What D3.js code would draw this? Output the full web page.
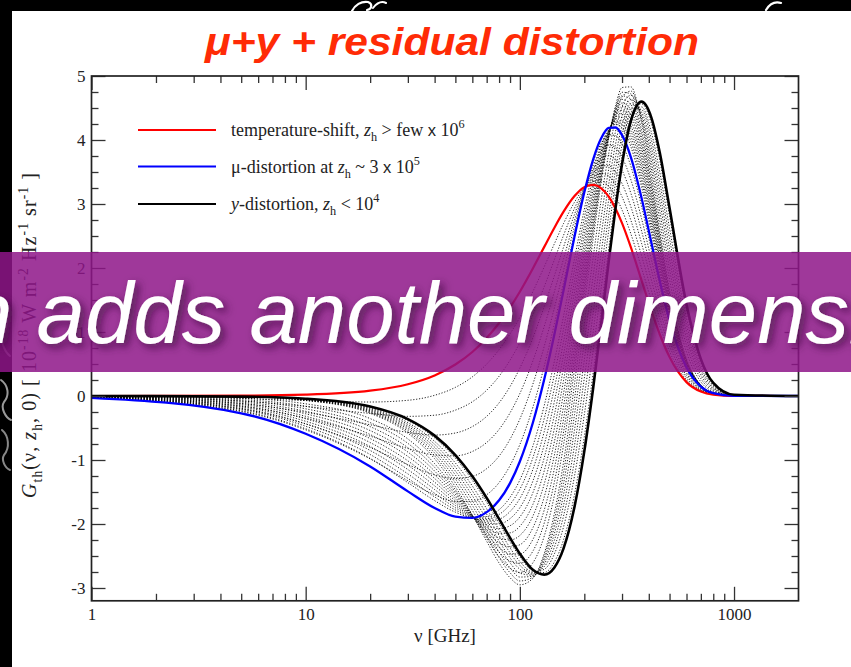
<!DOCTYPE html>
<html><head><meta charset="utf-8">
<script src="https://cdn.jsdelivr.net/npm/d3@7"></script>
<style>
html,body{margin:0;padding:0;background:#000;}
svg{display:block;}
</style></head><body>
<svg id="chart" width="851" height="667"></svg>
<script>
// ---------------- data ----------------
const titleText = "μ+y + residual distortion";
const bannerText = "n adds another dimensi";
const xAxisTitle = "ν [GHz]";
const freqGHz = [1, 5, 10, 20, 30, 40, 50, 60, 70, 80, 90, 100, 115, 130, 145, 160, 180, 200, 220, 240, 260, 280, 300, 330, 370, 410, 450, 500, 600, 700, 800, 1000, 2000];
const tempShift = [0.0002, 0.005, 0.021, 0.083, 0.184, 0.322, 0.492, 0.688, 0.907, 1.140, 1.383, 1.629, 1.992, 2.330, 2.630, 2.880, 3.124, 3.263, 3.299, 3.244, 3.115, 2.927, 2.701, 2.321, 1.808, 1.346, 0.965, 0.609, 0.217, 0.069, 0.020, 0.0015, 0];
const muDistortion = [-0.03, -0.27, -0.59, -1.10, -1.49, -1.750, -1.885, -1.904, -1.815, -1.630, -1.361, -1.023, -0.418, 0.261, 0.965, 1.654, 2.490, 3.182, 3.698, 4.030, 4.189, 4.195, 4.076, 3.730, 3.095, 2.417, 1.800, 1.180, 0.444, 0.147, 0.044, 0.003, 0];
const yDistortion = [0, -0.010, -0.042, -0.165, -0.361, -0.619, -0.923, -1.255, -1.594, -1.921, -2.217, -2.464, -2.715, -2.791, -2.678, -2.380, -1.729, -0.862, 0.129, 1.146, 2.106, 2.945, 3.623, 4.300, 4.599, 4.362, 3.804, 2.938, 1.430, 0.577, 0.205, 0.020, 0];
// dotted residual-era curves (intermediate heating redshifts)
const residualCurves = [
  [-0.0045, -0.036, -0.071, -0.094, -0.067, 0.011, 0.135, 0.299, 0.499, 0.725, 0.971, 1.231, 1.631, 2.020, 2.380, 2.696, 3.029, 3.251, 3.359, 3.362, 3.276, 3.117, 2.907, 2.532, 2.001, 1.507, 1.090, 0.695, 0.251, 0.081, 0.024, 0.0015, 0],
  [-0.009, -0.078, -0.162, -0.272, -0.318, -0.300, -0.221, -0.090, 0.090, 0.309, 0.560, 0.833, 1.269, 1.709, 2.131, 2.512, 2.934, 3.239, 3.419, 3.480, 3.437, 3.307, 3.113, 2.744, 2.194, 1.667, 1.216, 0.780, 0.285, 0.092, 0.027, 0.002, 0],
  [-0.0135, -0.119, -0.254, -0.449, -0.569, -0.610, -0.578, -0.478, -0.318, -0.107, 0.148, 0.436, 0.908, 1.399, 1.881, 2.328, 2.839, 3.227, 3.479, 3.598, 3.598, 3.498, 3.320, 2.955, 2.387, 1.828, 1.341, 0.866, 0.319, 0.104, 0.031, 0.002, 0],
  [-0.018, -0.160, -0.346, -0.627, -0.820, -0.921, -0.934, -0.867, -0.726, -0.522, -0.263, 0.038, 0.546, 1.089, 1.631, 2.144, 2.744, 3.214, 3.538, 3.716, 3.759, 3.688, 3.526, 3.166, 2.580, 1.989, 1.466, 0.952, 0.353, 0.116, 0.034, 0.002, 0],
  [-0.023, -0.201, -0.437, -0.804, -1.072, -1.232, -1.291, -1.256, -1.135, -0.938, -0.675, -0.360, 0.185, 0.778, 1.381, 1.961, 2.649, 3.202, 3.598, 3.834, 3.921, 3.878, 3.732, 3.378, 2.773, 2.149, 1.591, 1.037, 0.387, 0.128, 0.038, 0.003, 0],
  [-0.027, -0.243, -0.529, -0.982, -1.323, -1.543, -1.647, -1.645, -1.543, -1.353, -1.087, -0.758, -0.177, 0.468, 1.132, 1.777, 2.553, 3.190, 3.658, 3.951, 4.082, 4.068, 3.939, 3.589, 2.966, 2.310, 1.717, 1.123, 0.421, 0.139, 0.042, 0.003, 0],
  [-0.0255, -0.231, -0.512, -0.976, -1.354, -1.635, -1.815, -1.897, -1.883, -1.777, -1.583, -1.312, -0.783, -0.147, 0.546, 1.251, 2.145, 2.918, 3.512, 3.928, 4.165, 4.247, 4.188, 3.895, 3.271, 2.573, 1.919, 1.252, 0.464, 0.150, 0.045, 0.003, 0],
  [-0.023, -0.212, -0.473, -0.914, -1.286, -1.577, -1.781, -1.894, -1.918, -1.851, -1.694, -1.457, -0.966, -0.351, 0.337, 1.050, 1.973, 2.786, 3.420, 3.877, 4.153, 4.273, 4.244, 3.978, 3.360, 2.652, 1.978, 1.288, 0.475, 0.152, 0.046, 0.0035, 0],
  [-0.021, -0.193, -0.434, -0.851, -1.217, -1.519, -1.746, -1.891, -1.952, -1.924, -1.805, -1.601, -1.148, -0.555, 0.127, 0.849, 1.800, 2.653, 3.327, 3.826, 4.141, 4.299, 4.299, 4.060, 3.448, 2.730, 2.037, 1.324, 0.485, 0.154, 0.046, 0.004, 0],
  [-0.019, -0.174, -0.395, -0.789, -1.149, -1.462, -1.711, -1.888, -1.986, -1.998, -1.916, -1.746, -1.330, -0.759, -0.083, 0.648, 1.628, 2.521, 3.234, 3.775, 4.129, 4.325, 4.355, 4.143, 3.536, 2.808, 2.097, 1.360, 0.495, 0.156, 0.047, 0.004, 0],
  [-0.0165, -0.154, -0.356, -0.727, -1.081, -1.404, -1.676, -1.884, -2.020, -2.071, -2.027, -1.890, -1.512, -0.963, -0.293, 0.446, 1.455, 2.389, 3.141, 3.724, 4.117, 4.350, 4.411, 4.225, 3.624, 2.886, 2.156, 1.396, 0.505, 0.157, 0.047, 0.004, 0],
  [-0.014, -0.135, -0.317, -0.665, -1.013, -1.346, -1.641, -1.881, -2.054, -2.145, -2.138, -2.035, -1.695, -1.168, -0.503, 0.245, 1.283, 2.257, 3.048, 3.673, 4.106, 4.376, 4.467, 4.308, 3.712, 2.965, 2.215, 1.432, 0.516, 0.159, 0.048, 0.004, 0],
  [-0.012, -0.115, -0.278, -0.602, -0.944, -1.288, -1.606, -1.878, -2.088, -2.218, -2.248, -2.179, -1.877, -1.372, -0.712, 0.044, 1.110, 2.125, 2.955, 3.622, 4.094, 4.402, 4.522, 4.390, 3.800, 3.043, 2.274, 1.468, 0.526, 0.161, 0.048, 0.004, 0],
  [-0.010, -0.096, -0.239, -0.540, -0.876, -1.231, -1.571, -1.875, -2.122, -2.292, -2.359, -2.324, -2.060, -1.576, -0.922, -0.158, 0.938, 1.993, 2.862, 3.571, 4.082, 4.428, 4.578, 4.473, 3.888, 3.121, 2.334, 1.504, 0.536, 0.163, 0.049, 0.004, 0],
  [-0.0075, -0.077, -0.200, -0.478, -0.808, -1.173, -1.536, -1.871, -2.156, -2.365, -2.470, -2.468, -2.242, -1.780, -1.131, -0.359, 0.765, 1.861, 2.769, 3.520, 4.070, 4.454, 4.634, 4.555, 3.976, 3.199, 2.393, 1.540, 0.546, 0.164, 0.049, 0.0045, 0],
  [-0.005, -0.058, -0.161, -0.416, -0.740, -1.115, -1.502, -1.868, -2.191, -2.439, -2.581, -2.613, -2.425, -1.984, -1.341, -0.561, 0.593, 1.733, 2.677, 3.469, 4.058, 4.480, 4.690, 4.638, 4.065, 3.278, 2.452, 1.576, 0.556, 0.166, 0.050, 0.0046, 0],
  [-0.003, -0.038, -0.122, -0.353, -0.671, -1.057, -1.467, -1.864, -2.225, -2.512, -2.692, -2.757, -2.607, -2.188, -1.551, -0.762, 0.420, 1.604, 2.584, 3.418, 4.046, 4.506, 4.746, 4.720, 4.153, 3.356, 2.511, 1.612, 0.566, 0.168, 0.050, 0.0047, 0],
  [0, -0.012, -0.070, -0.270, -0.580, -0.980, -1.420, -1.860, -2.270, -2.610, -2.840, -2.950, -2.850, -2.460, -1.830, -1.030, 0.190, 1.420, 2.460, 3.350, 4.030, 4.540, 4.820, 4.830, 4.270, 3.460, 2.590, 1.660, 0.580, 0.170, 0.050, 0.005, 0],
  [0, -0.012, -0.067, -0.257, -0.553, -0.935, -1.358, -1.785, -2.186, -2.524, -2.762, -2.890, -2.833, -2.502, -1.936, -1.199, -0.050, 1.135, 2.169, 3.075, 3.790, 4.341, 4.671, 4.764, 4.311, 3.573, 2.742, 1.820, 0.687, 0.221, 0.070, 0.007, 0],
  [0, -0.012, -0.063, -0.244, -0.525, -0.890, -1.296, -1.709, -2.101, -2.438, -2.684, -2.829, -2.816, -2.543, -2.042, -1.368, -0.290, 0.850, 1.877, 2.799, 3.549, 4.141, 4.521, 4.698, 4.352, 3.686, 2.894, 1.980, 0.793, 0.272, 0.089, 0.009, 0],
  [0, -0.0115, -0.060, -0.231, -0.498, -0.845, -1.234, -1.634, -2.017, -2.352, -2.607, -2.768, -2.800, -2.585, -2.148, -1.537, -0.530, 0.565, 1.586, 2.524, 3.309, 3.942, 4.372, 4.632, 4.394, 3.799, 3.046, 2.140, 0.899, 0.323, 0.109, 0.011, 0],
  [0, -0.011, -0.056, -0.218, -0.471, -0.800, -1.172, -1.558, -1.932, -2.266, -2.529, -2.707, -2.783, -2.626, -2.254, -1.705, -0.770, 0.279, 1.295, 2.248, 3.068, 3.743, 4.222, 4.565, 4.435, 3.911, 3.197, 2.299, 1.005, 0.374, 0.128, 0.013, 0],
  [0, -0.011, -0.0525, -0.2045, -0.4435, -0.7545, -1.1095, -1.482, -1.8475, -2.1795, -2.451, -2.6465, -2.766, -2.667, -2.360, -1.874, -1.0095, -0.0065, 1.0035, 1.9725, 2.8275, 3.5435, 4.072, 4.499, 4.476, 4.024, 3.349, 2.459, 1.1115, 0.4245, 0.1475, 0.015, 0],
  [0, -0.011, -0.049, -0.191, -0.416, -0.709, -1.047, -1.406, -1.763, -2.093, -2.373, -2.586, -2.749, -2.708, -2.466, -2.043, -1.249, -0.292, 0.712, 1.697, 2.587, 3.344, 3.922, 4.433, 4.517, 4.137, 3.501, 2.619, 1.218, 0.475, 0.167, 0.017, 0],
  [0, -0.010, -0.045, -0.176, -0.383, -0.655, -0.973, -1.316, -1.662, -1.990, -2.279, -2.513, -2.729, -2.758, -2.593, -2.245, -1.537, -0.634, 0.362, 1.366, 2.298, 3.105, 3.743, 4.353, 4.566, 4.272, 3.683, 2.810, 1.345, 0.536, 0.190, 0.0185, 0]
];
const xTickValues = [1, 10, 100, 1000];
const xMinorTicks = [2,3,4,5,6,7,8,9,20,30,40,50,60,70,80,90,200,300,400,500,600,700,800,900];
const yTickValues = [-3, -2, -1, 0, 1, 2, 3, 4, 5];
const yMinorTicks = [-2.75, -2.5, -2.25, -1.75, -1.5, -1.25, -0.75, -0.5, -0.25, 0.25, 0.5, 0.75, 1.25, 1.5, 1.75, 2.25, 2.5, 2.75, 3.25, 3.5, 3.75, 4.25, 4.5, 4.75];
const seriesColors = ["#ff0000", "#0000ff", "#000000"];
const legendLabels = [
  [{t:"temperature-shift, "},{t:"z",i:1},{t:"h",sub:1},{t:" > few "},{t:"x",sans:1},{t:" 10"},{t:"6",sup:1}],
  [{t:"μ-distortion at "},{t:"z",i:1},{t:"h",sub:1},{t:" ~ 3 "},{t:"x",sans:1},{t:" 10"},{t:"5",sup:1}],
  [{t:"y",i:1},{t:"-distortion, "},{t:"z",i:1},{t:"h",sub:1},{t:" < 10"},{t:"4",sup:1}]
];
const yAxisLabel = [{t:"G",i:1},{t:"th",sub:1},{t:"(ν, "},{t:"z",i:1},{t:"h",sub:1},{t:", 0)  [ 10"},{t:"-18",sup:1},{t:" W m"},{t:"-2",sup:1},{t:" Hz"},{t:"-1",sup:1},{t:" sr"},{t:"-1",sup:1},{t:" ]"}];

// ---------------- drawing ----------------
const W = 851, H = 667;
const serif = "'Liberation Serif','Times New Roman',Times,serif";
const sans = "'Liberation Sans',Arial,Helvetica,sans-serif";
const svg = d3.select("#chart");
const defs = svg.append("defs");
const f = defs.append("filter").attr("id","shadow").attr("x","-10%").attr("y","-40%").attr("width","130%").attr("height","180%");
f.append("feDropShadow").attr("dx",4).attr("dy",4).attr("stdDeviation",4).attr("flood-color","#3b0a3b").attr("flood-opacity",0.75);

svg.append("rect").attr("width",W).attr("height",H).attr("fill","#000");
// decorative swirls of the slide background
const deco = svg.append("g").attr("fill","none").attr("stroke-linecap","round");
deco.append("path").attr("d","M352,11 C355,5 361,1 368,2 C373,4 372,9 367,10").attr("stroke","#fff").attr("stroke-width",2.2);
deco.append("path").attr("d","M373,8 C377,3 382,1 386,3").attr("stroke","#fff").attr("stroke-width",2);
deco.append("path").attr("d","M766,10 C769,5 774,1 781,3").attr("stroke","#fff").attr("stroke-width",2.2);
deco.append("path").attr("d","M1,380 C8,385 10,395 4,402 C0,408 6,418 11,420").attr("stroke","#999").attr("stroke-width",2);
deco.append("path").attr("d","M2,430 C9,436 10,448 4,455 C1,460 5,468 10,470").attr("stroke","#888").attr("stroke-width",2);
deco.append("path").attr("d","M3,300 C9,310 9,325 3,335 C0,342 5,352 10,356").attr("stroke","#777").attr("stroke-width",2);

svg.append("rect").attr("x",12).attr("y",11).attr("width",W-12).attr("height",H-11).attr("fill","#fff");

// title
svg.append("text").attr("x",452).attr("y",55).attr("text-anchor","middle")
  .attr("font-family",sans).attr("font-weight","bold").attr("font-style","italic")
  .attr("font-size",38).attr("fill","#ff2b06")
  .attr("textLength",494).attr("lengthAdjust","spacingAndGlyphs").text(titleText);

const x0 = 91.5, x1 = 798.5, yTop = 76, yBot = 600.8;
const x = d3.scaleLog().domain([1, 2000]).range([x0, x1]);
const y = d3.scaleLinear().domain([-3.2, 5]).range([yBot, yTop]);

const plot = svg.append("g");
const clip = defs.append("clipPath").attr("id","clip");
clip.append("rect").attr("x",x0).attr("y",yTop).attr("width",x1-x0).attr("height",yBot-yTop);

const line = d3.line().x(d => x(d[0])).y(d => y(d[1])).curve(d3.curveMonotoneX);
const curves = plot.append("g").attr("clip-path","url(#clip)");
residualCurves.forEach(vals => {
  curves.append("path").attr("d", line(freqGHz.map((f,i)=>[f, vals[i]])))
    .attr("fill","none").attr("stroke","#000").attr("stroke-width",1)
    .attr("stroke-dasharray","1.2,1.7").attr("opacity",0.85);
});
const mainWidths = [2.2, 2.3, 2.6];
[tempShift, muDistortion, yDistortion].forEach((vals, k) => {
  curves.append("path").attr("d", line(freqGHz.map((f,i)=>[f, vals[i]])))
    .attr("fill","none").attr("stroke",seriesColors[k]).attr("stroke-width",mainWidths[k]);
});

// axes
function styleAxis(g){
  g.select(".domain").remove();
  g.selectAll(".tick line").attr("stroke","#333").attr("stroke-width",1.3);
  g.selectAll(".tick text").attr("font-family",serif).attr("font-size",17).attr("fill","#222");
}
const fmt = d => String(d);
plot.append("g").attr("transform",`translate(${x0},0)`)
  .call(d3.axisLeft(y).tickValues(yTickValues).tickSizeInner(-14).tickSizeOuter(0).tickPadding(6).tickFormat(fmt)).call(styleAxis);
plot.append("g").attr("transform",`translate(${x0},0)`)
  .call(d3.axisLeft(y).tickValues(yMinorTicks).tickSizeInner(-7).tickSizeOuter(0).tickFormat("")).call(styleAxis);
plot.append("g").attr("transform",`translate(${x1},0)`)
  .call(d3.axisRight(y).tickValues(yTickValues).tickSizeInner(-14).tickSizeOuter(0).tickFormat("")).call(styleAxis);
plot.append("g").attr("transform",`translate(${x1},0)`)
  .call(d3.axisRight(y).tickValues(yMinorTicks).tickSizeInner(-7).tickSizeOuter(0).tickFormat("")).call(styleAxis);
plot.append("g").attr("transform",`translate(0,${yBot})`)
  .call(d3.axisBottom(x).tickValues(xTickValues).tickSizeInner(-14).tickSizeOuter(0).tickPadding(7).tickFormat(fmt)).call(styleAxis);
plot.append("g").attr("transform",`translate(0,${yBot})`)
  .call(d3.axisBottom(x).tickValues(xMinorTicks).tickSizeInner(-7).tickSizeOuter(0).tickFormat("")).call(styleAxis);
plot.append("g").attr("transform",`translate(0,${yTop})`)
  .call(d3.axisTop(x).tickValues(xTickValues).tickSizeInner(-14).tickSizeOuter(0).tickFormat("")).call(styleAxis);
plot.append("g").attr("transform",`translate(0,${yTop})`)
  .call(d3.axisTop(x).tickValues(xMinorTicks).tickSizeInner(-7).tickSizeOuter(0).tickFormat("")).call(styleAxis);
plot.append("rect").attr("x",x0).attr("y",yTop).attr("width",x1-x0).attr("height",yBot-yTop)
  .attr("fill","none").attr("stroke","#222").attr("stroke-width",1.7);

// rich text helper
function rich(textSel, parts, fs){
  let cur = 0;
  parts.forEach(p => {
    const target = p.sub ? 0.28*fs : (p.sup ? -0.42*fs : 0);
    const ts = textSel.append("tspan").text(p.t).attr("dy", (target-cur).toFixed(2));
    if (p.sub || p.sup) ts.attr("font-size", fs*0.68);
    if (p.i) ts.attr("font-style","italic");
    if (p.sans) ts.attr("font-family", sans).attr("font-size", fs*0.92);
    cur = target;
  });
}

// x axis title
plot.append("text").attr("x",(x0+x1)/2).attr("y",642).attr("text-anchor","middle")
  .attr("font-family",serif).attr("font-size",19).attr("fill","#222").text(xAxisTitle);

// y axis title
const yl = plot.append("text").attr("transform","translate(36,498) rotate(-90)")
  .attr("font-family",serif).attr("font-size",20).attr("fill","#222")
  .attr("textLength",325).attr("lengthAdjust","spacing");
rich(yl, yAxisLabel, 20);

// legend
const legY = [130, 166.5, 204];
legendLabels.forEach((parts, k) => {
  plot.append("line").attr("x1",138).attr("x2",216).attr("y1",legY[k]).attr("y2",legY[k])
    .attr("stroke",seriesColors[k]).attr("stroke-width",2.2);
  const t = plot.append("text").attr("x",231).attr("y",legY[k]+6)
    .attr("font-family",serif).attr("font-size",18).attr("fill","#222");
  rich(t, parts, 18);
});

// banner
svg.append("rect").attr("x",0).attr("y",252).attr("width",W).attr("height",120)
  .attr("fill","rgb(142,21,136)").attr("fill-opacity",0.85);
svg.append("text").attr("x",-36).attr("y",343)
  .attr("font-family",sans).attr("font-style","italic").attr("font-size",87)
  .attr("fill","#fff").attr("filter","url(#shadow)").text(bannerText);
</script>
</body></html>
